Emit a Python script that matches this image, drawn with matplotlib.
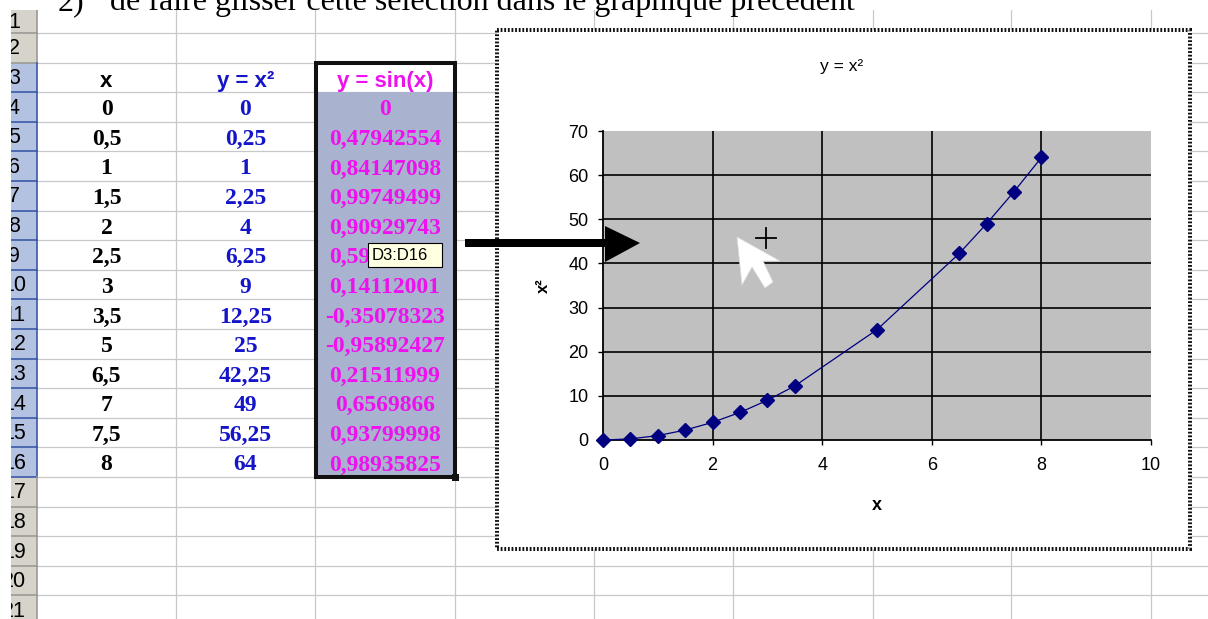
import numpy as np
import matplotlib.pyplot as plt
from matplotlib.patches import Rectangle, Polygon

# values read from the sheet
x_vals = [0, 0.5, 1, 1.5, 2, 2.5, 3, 3.5, 5, 6.5, 7, 7.5, 8]
y_square = [0, 0.25, 1, 2.25, 4, 6.25, 9, 12.25, 25, 42.25, 49, 56.25, 64]
y_sin = [0, 0.47942554, 0.84147098, 0.99749499, 0.90929743, 0.59847214,
         0.14112001, -0.35078323, -0.95892427, 0.21511999, 0.6569866,
         0.93799998, 0.98935825]
headers = ["x", "y = x²", "y = sin(x)"]
header_colors = ["black", "#1414c8", "#ee10ee"]
x_ticks = [0, 2, 4, 6, 8, 10]
y_ticks = [0, 10, 20, 30, 40, 50, 60, 70]
n_rows = 21
caption_num = "2)"
caption = "de faire glisser cette sélection dans le graphique précédent"
tooltip = "D3:D16"

SANS = ["Liberation Sans", "DejaVu Sans"]
SERIF = ["Liberation Serif", "DejaVu Serif"]

W, H = 1208, 619
fig = plt.figure(figsize=(W / 100, H / 100), dpi=100)

# full-figure axes in pixel units for the spreadsheet
bg = fig.add_axes([0, 0, 1, 1], zorder=0)
bg.set_xlim(0, W)
bg.set_ylim(H, 0)
bg.axis("off")

sheet_top = 10
col_edges = [37, 176, 315, 455, 594, 733, 873, 1011, 1151]


def row_top(k):
    if k == 1:
        return sheet_top
    return 33 + 29.6 * (k - 2)


def fmt(v, sin=False):
    s = f"{v:.8f}".rstrip("0").rstrip(".") if sin else f"{v:g}"
    return s.replace(".", ",")


# row headers
for k in range(1, n_rows + 1):
    t, b = row_top(k), row_top(k + 1)
    sel = 3 <= k <= 16
    bg.add_patch(Rectangle((0, t), 37, b - t, facecolor="#b4c2e2" if sel else "#d6d3ca",
                           edgecolor="none", zorder=1))
    bg.plot([0, 37], [b, b], color="#3a5aa8" if sel else "#9a9a96", lw=1.2, zorder=2)
    bg.plot([37, 37], [t, b], color="#3a5aa8" if sel else "#9a9a96", lw=1.2, zorder=2)
    bg.text(14, (t + b) / 2 + 1, str(k), ha="center", va="center", fontsize=15.5,
            family=SANS, color="black", zorder=3)

# white margin left and top of the screenshot
bg.add_patch(Rectangle((0, 0), 11, H, facecolor="white", edgecolor="none", zorder=5))
bg.add_patch(Rectangle((0, 0), W, sheet_top, facecolor="white", edgecolor="none", zorder=5))

# cell grid
for k in range(1, n_rows + 1):
    y = row_top(k + 1)
    bg.plot([37, W], [y, y], color="#c8c8c8", lw=0.9, zorder=1)
for xe in col_edges[1:]:
    bg.plot([xe, xe], [sheet_top, H], color="#c8c8c8", lw=0.9, zorder=1)

# selected range background
bg.add_patch(Rectangle((315, row_top(4)), 140, row_top(17) - row_top(4),
                       facecolor="#a9b2cf", edgecolor="none", zorder=1.5))

# header row (row 3)
centers = [(col_edges[i] + col_edges[i + 1]) / 2 for i in range(3)]
for cx, txt, c in zip(centers, headers, header_colors):
    bg.text(cx, row_top(4) - 5.5, txt, ha="center", va="baseline", fontsize=16,
            fontweight="bold", family=SANS, color=c, zorder=3)

# data rows
for i, (xv, yv, sv) in enumerate(zip(x_vals, y_square, y_sin)):
    base = row_top(5 + i) - 6.5
    bg.text(centers[0], base, fmt(xv), ha="center", va="baseline", fontsize=17,
            fontweight="bold", family=SERIF, color=header_colors[0], zorder=3)
    bg.text(centers[1], base, fmt(yv), ha="center", va="baseline", fontsize=17,
            fontweight="bold", family=SERIF, color=header_colors[1], zorder=3)
    bg.text(centers[2], base, fmt(sv, sin=True), ha="center", va="baseline", fontsize=17,
            fontweight="bold", family=SERIF, color=header_colors[2], zorder=3)

# selection border and fill handle
bg.add_patch(Rectangle((315.5, row_top(3)), 139, row_top(17) - row_top(3),
                       facecolor="none", edgecolor="#111111", lw=2.9, zorder=4))
bg.add_patch(Rectangle((452, row_top(17) - 3.5), 7, 7, facecolor="#111111",
                       edgecolor="none", zorder=4))

# chart area with the dotted "selected" frame
bg.add_patch(Rectangle((497, 30), 693, 519, facecolor="white", edgecolor="#111111",
                       lw=2.9, linestyle=(0, (0.45, 0.45)), zorder=6))
bg.text(842, 67, "y = x²", ha="center", va="center", fontsize=12.5, family=SANS,
        color="black", zorder=7)

# the chart itself
ax = fig.add_axes([603 / W, (H - 440) / H, 548 / W, 309 / H], zorder=1)
ax.set_facecolor("#c0c0c0")
ax.set_xlim(0, 10)
ax.set_ylim(0, 70)
ax.set_xticks(x_ticks)
ax.set_yticks(y_ticks)
for t in x_ticks[1:-1]:
    ax.axvline(t, color="black", lw=1.2, zorder=1)
for t in y_ticks[1:-1]:
    ax.axhline(t, color="black", lw=1.2, zorder=1)
ax.plot(x_vals, y_square, color="#000080", lw=0.9, marker="D", ms=7,
        mfc="#000080", mec="#000080", zorder=3, clip_on=False)

for s in ["top", "right"]:
    ax.spines[s].set_visible(False)
for s in ["left", "bottom"]:
    ax.spines[s].set_color("black")
    ax.spines[s].set_linewidth(1.3)
ax.tick_params(direction="out", length=3.6, width=1.0, colors="black", labelsize=13)
ax.tick_params(axis="x", pad=9)
ax.tick_params(axis="y", pad=7)
for lab in ax.get_xticklabels() + ax.get_yticklabels():
    lab.set_family(SANS)

ax.set_xlabel("x", fontsize=13, fontweight="bold", family=SANS)
ax.xaxis.set_label_coords(0.5, (440 - 505) / 309)
ax.xaxis.label.set_va("center")
ax.set_ylabel("x²", fontsize=12, fontweight="bold", family=SANS)
ax.yaxis.set_label_coords((543 - 603) / 548, 0.5)
ax.yaxis.label.set_va("center")

# overlay: drag arrow, mouse cursor, tooltip, caption
top = fig.add_axes([0, 0, 1, 1], zorder=3)
top.set_xlim(0, W)
top.set_ylim(H, 0)
top.axis("off")
top.patch.set_visible(False)

top.add_patch(Polygon([(465, 239), (605, 239), (605, 226), (640, 243), (605, 262),
                       (605, 247), (465, 247)], closed=True, facecolor="black",
                      edgecolor="none"))
top.add_patch(Polygon([(737, 237), (780, 261), (763, 261), (773, 282), (765, 288),
                       (752, 267), (742, 285)], closed=True, facecolor="white",
                      edgecolor="#dcdcdc", lw=0.5))
top.plot([756, 776], [238, 238], color="black", lw=1.3)
top.plot([766, 766], [228, 248], color="black", lw=1.3)

top.add_patch(Rectangle((368, 243), 74, 24, facecolor="#ffffe1", edgecolor="black", lw=0.8))
top.text(372, 255.5, tooltip, ha="left", va="center", fontsize=12, family=SANS,
         color="black")

top.text(58, 10, caption_num, ha="left", va="baseline", fontsize=23, family=SERIF,
         color="black")
top.text(110, 10, caption, ha="left", va="baseline", fontsize=23, family=SERIF,
         color="black")

fig.savefig("out.png", dpi=100)
